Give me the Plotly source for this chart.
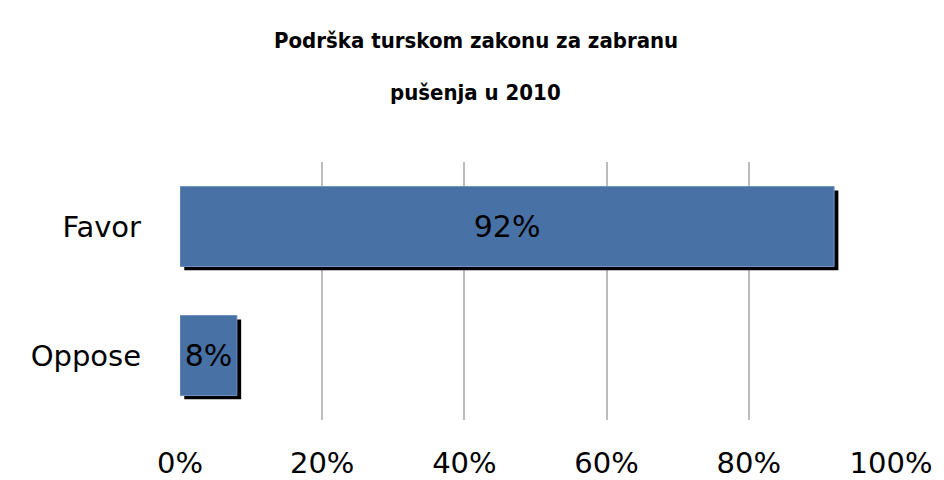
import plotly.graph_objects as go

categories = ["Oppose", "Favor"]
shares = [8, 92]
labels = ["8%", "92%"]
tick_vals = [0, 20, 40, 60, 80, 100]
tick_text = ["0%", "20%", "40%", "60%", "80%", "100%"]
title_lines = ["Podrška turskom zakonu za zabranu", "pušenja u 2010"]

bar_color = "#4872a6"
shadow_dx = 0.6  # shadow shift in % units

fig = go.Figure()

# black drop shadow behind each bar
fig.add_trace(go.Bar(
    y=categories,
    x=shares,
    base=shadow_dx,
    orientation="h",
    width=0.62,
    offset=-0.34,
    marker=dict(color="black", line=dict(width=0)),
    hoverinfo="skip",
    showlegend=False,
))

fig.add_trace(go.Bar(
    y=categories,
    x=shares,
    orientation="h",
    width=0.62,
    offset=-0.31,
    marker=dict(color=bar_color, line=dict(color="#6f93c2", width=1)),
    text=labels,
    textposition="inside",
    insidetextanchor="middle",
    constraintext="none",
    textfont=dict(family="DejaVu Sans", size=30, color="black"),
    showlegend=False,
))

# page body has an 8px margin, so margins are shifted to line the plot up
fig.update_layout(
    barmode="overlay",
    width=944,
    height=480,
    margin=dict(l=172, r=61, t=154, b=68, autoexpand=False),
    plot_bgcolor="white",
    paper_bgcolor="white",
    font=dict(family="DejaVu Sans", color="black"),
)

fig.update_xaxes(
    range=[0, 100],
    tickvals=tick_vals,
    ticktext=tick_text,
    tickfont=dict(family="DejaVu Sans", size=29),
    ticklabelstandoff=23,
    automargin=False,
    showgrid=True,
    gridcolor="#bcbcbc",
    gridwidth=1.5,
    zeroline=False,
    showline=False,
    fixedrange=True,
)

fig.update_yaxes(
    categoryorder="array",
    categoryarray=categories,
    range=[-0.5, 1.5],
    tickfont=dict(family="DejaVu Sans", size=29),
    ticklabelstandoff=38,
    automargin=False,
    showgrid=False,
    zeroline=False,
    showline=False,
    fixedrange=True,
)

for i, line in enumerate(title_lines):
    fig.add_annotation(
        text="<b>" + line + "</b>",
        xref="paper", yref="paper",
        x=0.416, y=1.0,
        yanchor="middle",
        yshift=122 - 52 * i,
        showarrow=False,
        font=dict(family="Liberation Sans Narrow, DejaVu Sans Condensed", size=22, color="black"),
    )

fig.write_html("out.html")
